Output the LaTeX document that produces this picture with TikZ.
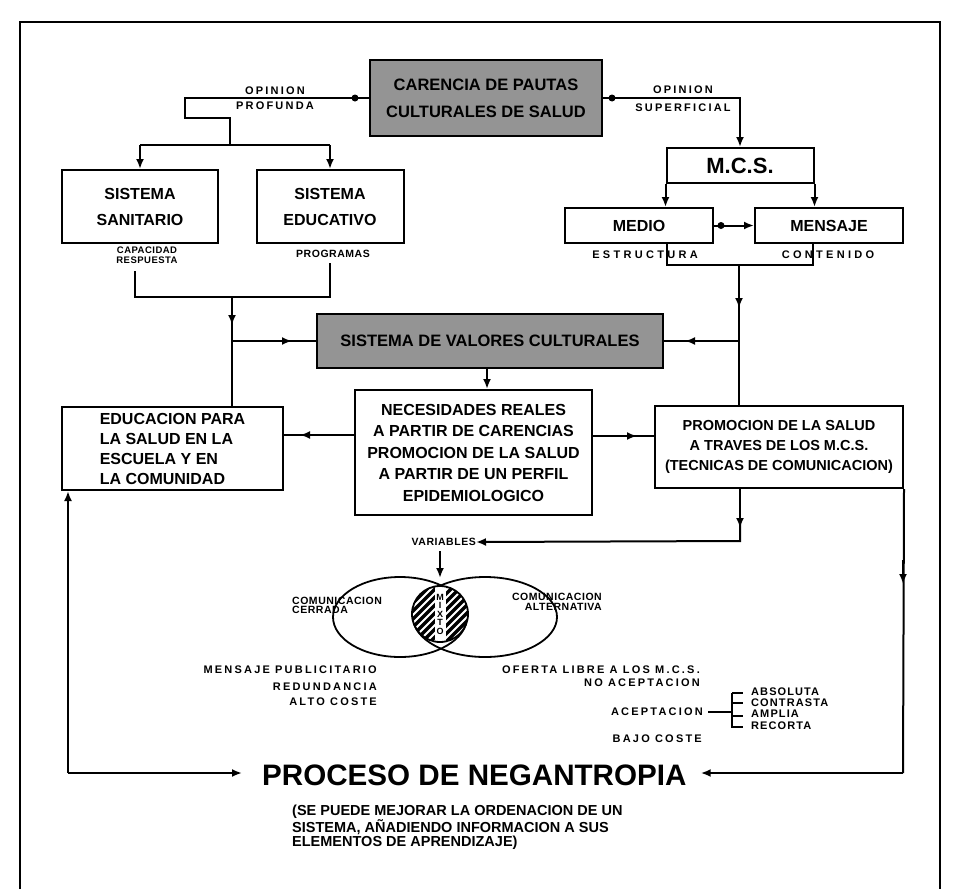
\documentclass[tikz,border=0pt]{standalone}
\usepackage{fontspec}
\setmainfont{Liberation Sans}
\newfontfamily\lbl{Liberation Sans}[LetterSpace=20]
\newfontfamily\lblmid{Liberation Sans}[LetterSpace=10]
\newfontfamily\lblnarrow{Liberation Sans}[LetterSpace=5]
\usetikzlibrary{arrows.meta,calc}
\begin{document}
\begin{tikzpicture}[x=1pt,y=-1pt,
  ln/.style={line width=2pt},
  tip/.style={-{Latex[length=10pt,width=8pt]}},
  box/.style={draw, line width=2pt, fill=white, align=center, inner sep=0pt,
    font=\bfseries\fontsize{16}{26}\selectfont},
  shbox/.style={box, fill=black!42, font=\bfseries\fontsize{16.5}{27}\selectfont},
  lab/.style={font=\lbl\bfseries\fontsize{11}{12}\selectfont, inner sep=0pt},
  labm/.style={font=\lblmid\bfseries\fontsize{11}{12}\selectfont, inner sep=0pt},
  labn/.style={font=\lblnarrow\bfseries\fontsize{10.5}{10}\selectfont, inner sep=0pt, align=center},
]
\useasboundingbox (0,0) rectangle (958,889);

% outer frame
\draw[line width=1.5pt] (20,889) -- (20,22) -- (940,22) -- (940,889);

% ---------- boxes ----------
\node[shbox, minimum width=232pt, minimum height=76pt] (car) at (486,98)
  {CARENCIA DE PAUTAS\\CULTURALES DE SALUD};
\node[box, minimum width=156pt, minimum height=73pt] (san) at (140,206.5) {SISTEMA\\SANITARIO};
\node[box, minimum width=147pt, minimum height=73pt] (edu) at (330,206.5) {SISTEMA\\EDUCATIVO};
\node[box, minimum width=147pt, minimum height=35pt,
  font=\bfseries\fontsize{22}{26}\selectfont] (mcs) at (740,165.5) {M.C.S.};
\node[box, minimum width=148pt, minimum height=35pt] (medio) at (639,225.5) {MEDIO};
\node[box, minimum width=148pt, minimum height=35pt] (mens) at (829,225.5) {MENSAJE};
\node[shbox, minimum width=346pt, minimum height=54pt] (val) at (490,341)
  {SISTEMA DE VALORES CULTURALES};
\node[box, minimum width=237pt, minimum height=125pt,
  font=\bfseries\fontsize{16}{21.5}\selectfont] (nec) at (473.5,452.5)
  {NECESIDADES REALES\\A PARTIR DE CARENCIAS\\PROMOCION DE LA SALUD\\A PARTIR DE UN PERFIL\\EPIDEMIOLOGICO};
\node[box, minimum width=221pt, minimum height=83pt, align=left,
  font=\bfseries\fontsize{16}{20}\selectfont] (eduC) at (172.5,448.5)
  {EDUCACION PARA\\LA SALUD EN LA\\ESCUELA Y EN\\LA COMUNIDAD};
\node[box, minimum width=248pt, minimum height=82pt,
  font=\bfseries\fontsize{14.5}{20}\selectfont] (pro) at (779,447)
  {PROMOCION DE LA SALUD\\A TRAVES DE LOS M.C.S.\\(TECNICAS DE COMUNICACION)};

% ---------- labels ----------
\node[lab] (op1) at (275,91) {OPINION};
\node[lab] (pf) at (275,106) {PROFUNDA};
\node[lab] (op2) at (683,90) {OPINION};
\node[lab] (sp) at (683,108) {SUPERFICIAL};
\node[labn, font=\lblnarrow\bfseries\fontsize{9.5}{9.5}\selectfont] (cap) at (147,255) {CAPACIDAD\\RESPUESTA};
\node[labn] (prg) at (333,254) {PROGRAMAS};
\node[lab, font=\lbl\bfseries\fontsize{11}{12}\selectfont\addfontfeature{LetterSpace=30}] (est) at (645,255) {ESTRUCTURA};
\node[lab, font=\lbl\bfseries\fontsize{11}{12}\selectfont\addfontfeature{LetterSpace=30}] (con) at (828,255) {CONTENIDO};

% ---------- connectors: top ----------
\draw[ln] (car.west) -- (185,98) -- (185,118) -- (230,118) -- (230,145);
\fill (355,98) circle (3.5pt);
\draw[ln] (140,145) -- (330,145);
\draw[ln,tip] (140,145) -- (san.north);
\draw[ln,tip] (330,145) -- (edu.north);

\draw[ln,tip] (car.east) -| (mcs.north);
\fill (612,98) circle (3.5pt);
\draw[ln,tip] (mcs.south west) -- (mcs.south west |- medio.north);
\draw[ln,tip] (mcs.south east) -- (mcs.south east |- mens.north);
\draw[ln,tip] (medio.east) -- (mens.west);
\fill ($(medio.east)+(7,0)$) circle (3.5pt);

% right bracket under MEDIO / MENSAJE
\coordinate (bl) at (667,265);
\coordinate (br) at (813,265);
\coordinate (bc) at (739,265);
\draw[ln] (medio.south -| bl) -- (bl) -- (br) -- (mens.south -| br);
\draw[ln,tip] (bc) -- (739,308);
\draw[ln] (739,300) -- (pro.north -| bc);
\coordinate (rj) at (739,341);
\draw[ln,tip] (rj) -- (685,341);
\draw[ln] (690,341) -- (val.east);

% left bracket under the SISTEMA boxes
\coordinate (ll) at (135,297);
\coordinate (lr) at (330,297);
\coordinate (lc) at (232,297);
\draw[ln] (135,271) -- (ll) -- (lr) -- (330,263);
\draw[ln,tip] (lc) -- (232,325);
\draw[ln] (232,318) -- (eduC.north -| lc);
\coordinate (lj) at (232,341);
\draw[ln,tip] (lj) -- (292,341);
\draw[ln] (288,341) -- (val.west);

% middle row
\draw[ln,tip] (val.south -| 487,0) -- (nec.north -| 487,0);
\draw[ln,tip] (nec.west |- 0,435) -- (300,435);
\draw[ln] (305,435) -- (eduC.east |- 0,435);
\draw[ln,tip] (nec.east |- 0,436) -- (637,436);
\draw[ln] (632,436) -- (pro.west |- 0,436);

% ---------- variables and communication diagram ----------
\node[labm, font=\lblnarrow\bfseries\fontsize{10.5}{12}\selectfont, anchor=east] (var) at (476,542) {VARIABLES};
\draw[ln,tip] (pro.south -| 740,0) -- (740,528);
\draw[ln,tip] (740,520) -- (740,541) -- (var.east);
\draw[ln,tip] (440,551) -- (440,578);

\draw[line width=1.8pt] (400,617) ellipse [x radius=67pt, y radius=40pt];
\draw[line width=1.8pt] (485,617) ellipse [x radius=72pt, y radius=40pt];

\begin{scope}
  \clip (440,614) circle (28pt);
  \fill[white] (440,614) circle (28pt);
  \foreach \k in {-70,-62,...,70}
    \draw[line width=3.4pt] ($(440,614)+(\k,0)+(-45,45)$) -- ++(90,-90);
  \fill[white] (434.5,586) rectangle (445.5,642);
\end{scope}
\draw[line width=1.8pt] (440,614) circle (28pt);
\node[labn, font=\bfseries\fontsize{9}{9}\selectfont] (mx) at (440,614)
  {M\\[-0.5pt]I\\[-0.5pt]X\\[-0.5pt]T\\[-0.5pt]O};

\node[labn, align=left, anchor=west, font=\lblnarrow\bfseries\fontsize{10.5}{9}\selectfont] (cc) at (292,605) {COMUNICACION\\CERRADA};
\node[labn, align=right, anchor=east, font=\lblnarrow\bfseries\fontsize{10.5}{10}\selectfont] (ca) at (602,602) {COMUNICACION\\ALTERNATIVA};

\node[lab, anchor=east] (mp) at (377,670) {MENSAJE PUBLICITARIO};
\node[lab, anchor=east] (rd) at (377,687) {REDUNDANCIA};
\node[lab, anchor=east] (ac) at (377,702) {ALTO COSTE};

\node[lab, anchor=east] (of) at (700,670) {OFERTA LIBRE A LOS M.C.S.};
\node[lab, anchor=east] (na) at (700,683) {NO ACEPTACION};
\node[lab, anchor=east] (acep) at (703,712) {ACEPTACION};
\node[lab, anchor=east] (bc2) at (702,739) {BAJO COSTE};

\draw[ln] (708,712) -- (732,712);
\draw[ln] (732,693) -- (732,728);
\foreach \yy in {693,703,716,727} \draw[ln] (732,\yy) -- (743,\yy);
\node[labm, anchor=west] (ab) at (751,692) {ABSOLUTA};
\node[labm, anchor=west] (ct) at (751,703) {CONTRASTA};
\node[labm, anchor=west] (am) at (751,714) {AMPLIA};
\node[labm, anchor=west] (rc) at (751,726) {RECORTA};

% ---------- bottom ----------
\node[inner sep=0pt, anchor=west, font=\bfseries\fontsize{29.6}{32}\selectfont] (proc) at (262,775)
  {PROCESO DE NEGANTROPIA};
\node[inner sep=0pt, anchor=north west, align=left,
  font=\bfseries\fontsize{14.5}{11.5}\selectfont] (sub) at (292,805)
  {(SE PUEDE MEJORAR LA ORDENACION DE UN\\SISTEMA, AÑADIENDO INFORMACION A SUS\\ELEMENTOS DE APRENDIZAJE)};

\draw[ln,tip] (68,773) -- (eduC.south -| 68,0);
\draw[ln,tip] (68,773) -- ($(proc.west)+(-20,-2)$);
\draw[ln] (pro.south east) -- (903,773);
\draw[ln,tip] (903,773) -- ($(proc.east)+(14,-2)$);
\draw[ln,tip] (903,560) -- (903,584);
\end{tikzpicture}
\end{document}
